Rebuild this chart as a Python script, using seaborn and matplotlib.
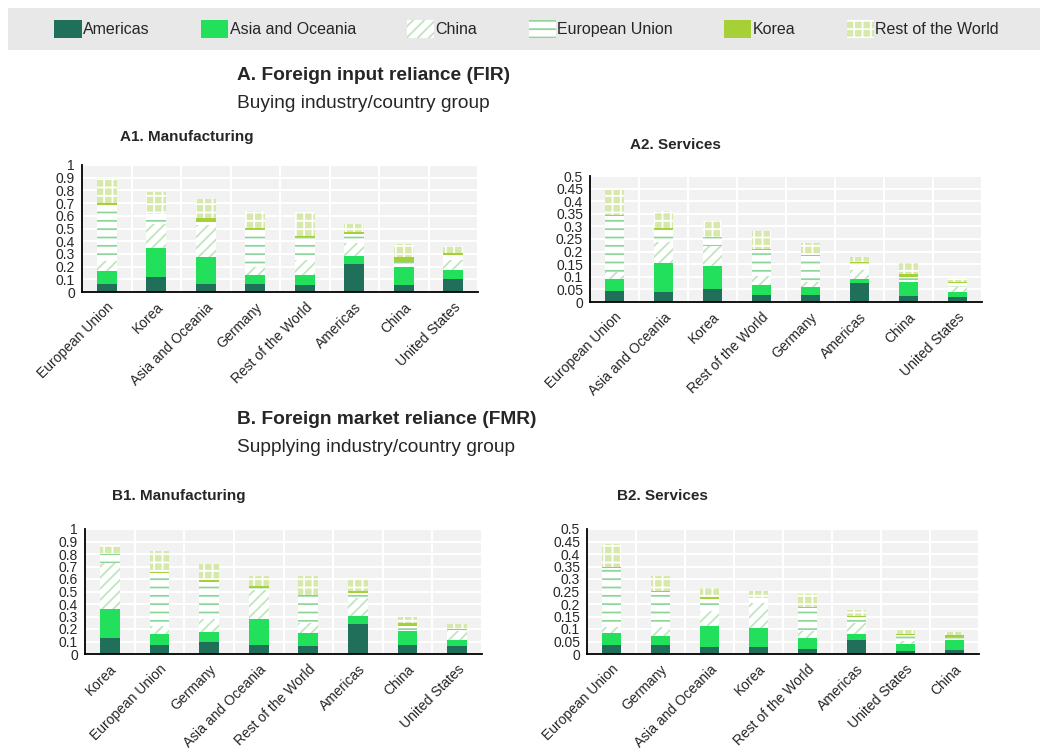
import numpy as np
import seaborn as sns
import matplotlib.pyplot as plt
from matplotlib.patches import Patch, Rectangle
from matplotlib.ticker import MultipleLocator, FormatStrFormatter

# ---- data (shares, one list per partner segment) ----
partners = ["Americas", "Asia and Oceania", "China", "European Union", "Korea", "Rest of the World"]

a1_cats = ["European Union", "Korea", "Asia and Oceania", "Germany", "Rest of the World", "Americas", "China", "United States"]
a1_americas = [0.065, 0.115, 0.060, 0.060, 0.052, 0.222, 0.052, 0.100]
a1_asia = [0.097, 0.235, 0.215, 0.076, 0.084, 0.058, 0.144, 0.070]
a1_china = [0.085, 0.187, 0.255, 0.064, 0.114, 0.105, 0.000, 0.084]
a1_eu = [0.440, 0.076, 0.025, 0.297, 0.182, 0.073, 0.042, 0.039]
a1_korea = [0.013, 0.000, 0.025, 0.006, 0.010, 0.011, 0.034, 0.013]
a1_row = [0.200, 0.172, 0.150, 0.137, 0.191, 0.068, 0.108, 0.053]

a2_cats = ["European Union", "Asia and Oceania", "Korea", "Rest of the World", "Germany", "Americas", "China", "United States"]
a2_americas = [0.042, 0.038, 0.053, 0.028, 0.026, 0.074, 0.022, 0.018]
a2_asia = [0.049, 0.116, 0.090, 0.039, 0.032, 0.019, 0.056, 0.020]
a2_china = [0.030, 0.085, 0.079, 0.037, 0.021, 0.035, 0.000, 0.021]
a2_eu = [0.221, 0.050, 0.035, 0.103, 0.104, 0.026, 0.023, 0.016]
a2_korea = [0.005, 0.004, 0.000, 0.004, 0.003, 0.003, 0.011, 0.004]
a2_row = [0.098, 0.069, 0.064, 0.071, 0.050, 0.023, 0.042, 0.018]

b1_cats = ["Korea", "European Union", "Germany", "Asia and Oceania", "Rest of the World", "Americas", "China", "United States"]
b1_americas = [0.125, 0.074, 0.093, 0.069, 0.061, 0.239, 0.069, 0.066]
b1_asia = [0.239, 0.083, 0.080, 0.208, 0.104, 0.064, 0.112, 0.048]
b1_china = [0.367, 0.069, 0.106, 0.236, 0.082, 0.144, 0.000, 0.072]
b1_eu = [0.069, 0.426, 0.301, 0.014, 0.216, 0.045, 0.045, 0.008]
b1_korea = [0.000, 0.008, 0.010, 0.021, 0.010, 0.013, 0.019, 0.008]
b1_row = [0.075, 0.162, 0.130, 0.080, 0.149, 0.085, 0.050, 0.037]

b2_cats = ["European Union", "Germany", "Asia and Oceania", "Korea", "Rest of the World", "Americas", "United States", "China"]
b2_americas = [0.035, 0.035, 0.027, 0.029, 0.021, 0.057, 0.013, 0.016]
b2_asia = [0.049, 0.039, 0.086, 0.076, 0.044, 0.024, 0.026, 0.039]
b2_china = [0.026, 0.036, 0.060, 0.098, 0.028, 0.043, 0.012, 0.000]
b2_eu = [0.233, 0.139, 0.048, 0.023, 0.091, 0.026, 0.026, 0.015]
b2_korea = [0.007, 0.005, 0.009, 0.000, 0.005, 0.004, 0.004, 0.008]
b2_row = [0.090, 0.058, 0.033, 0.027, 0.053, 0.023, 0.016, 0.012]

# ---- styles per partner: facecolor, hatch, hatch colour ----
styles = {
    "Americas": dict(color="#1f6f5a", hatch=None, edgecolor="#1f6f5a"),
    "Asia and Oceania": dict(color="#22e05c", hatch=None, edgecolor="#22e05c"),
    "China": dict(color="white", hatch="///", edgecolor="#bfe6bd"),
    "European Union": dict(color="white", hatch="--", edgecolor="#8fd69c"),
    "Korea": dict(color="#a6cf38", hatch=None, edgecolor="#a6cf38"),
    "Rest of the World": dict(color="#d6e8aa", hatch="++", edgecolor="white"),
}

sns.set_style("whitegrid", {"axes.facecolor": "#f2f2f2", "grid.color": "white",
                            "axes.edgecolor": "black"})
plt.rcParams["font.family"] = ["Liberation Sans", "DejaVu Sans"]
plt.rcParams["hatch.linewidth"] = 1.3

fig = plt.figure(figsize=(10.41, 7.52), dpi=100)
W, H = 1041, 752


def px_axes(left, top, right, bottom):
    return fig.add_axes([left / W, 1 - bottom / H, (right - left) / W, (bottom - top) / H])


def draw_panel(ax, cats, segs, ymax, step):
    tops = np.cumsum(np.array(segs), axis=0)
    # draw from the top cumulative down so lower segments sit over higher ones
    for i in range(len(partners) - 1, -1, -1):
        st = styles[partners[i]]
        sns.barplot(x=cats, y=list(tops[i]), order=cats, ax=ax, width=0.4,
                    saturation=1, errorbar=None, color=st["color"],
                    hatch=st["hatch"], edgecolor=st["edgecolor"], linewidth=0)
    ax.set_xlim(-0.5, len(cats) - 0.5)
    ax.set_ylim(0, ymax)
    ax.set_xlabel("")
    ax.set_ylabel("")
    ax.yaxis.set_major_locator(MultipleLocator(step))
    ax.yaxis.set_major_formatter(FormatStrFormatter("%g"))
    ax.set_xticks(np.arange(len(cats)))
    ax.set_xticks(np.arange(len(cats) + 1) - 0.5, minor=True)
    ax.set_xticklabels(cats, rotation=45, ha="right", rotation_mode="anchor", fontsize=10)
    ax.tick_params(axis="x", which="major", length=0, pad=6)
    ax.tick_params(axis="x", which="minor", direction="in", length=5, width=1.2, color="black")
    ax.tick_params(axis="y", direction="out", length=4, width=1.2, labelsize=10, pad=1)
    ax.grid(False)
    ax.grid(True, axis="y", which="major", color="white", lw=1.5)
    ax.grid(True, axis="x", which="minor", color="white", lw=1.5)
    ax.set_axisbelow(True)
    for s in ["top", "right"]:
        ax.spines[s].set_visible(False)
    for s in ["left", "bottom"]:
        ax.spines[s].set_color("black")
        ax.spines[s].set_linewidth(1.3)


ax_a1 = px_axes(82, 165, 478, 292)
draw_panel(ax_a1, a1_cats, [a1_americas, a1_asia, a1_china, a1_eu, a1_korea, a1_row], 1, 0.1)
ax_a2 = px_axes(590, 176, 982, 302)
draw_panel(ax_a2, a2_cats, [a2_americas, a2_asia, a2_china, a2_eu, a2_korea, a2_row], 0.5, 0.05)
ax_b1 = px_axes(85, 529, 482, 654)
draw_panel(ax_b1, b1_cats, [b1_americas, b1_asia, b1_china, b1_eu, b1_korea, b1_row], 1, 0.1)
ax_b2 = px_axes(587, 529, 979, 654)
draw_panel(ax_b2, b2_cats, [b2_americas, b2_asia, b2_china, b2_eu, b2_korea, b2_row], 0.5, 0.05)

# ---- titles ----
fig.text(237 / W, 1 - 75 / H, "A. Foreign input reliance (FIR)", fontsize=13.8, fontweight="bold", va="center")
fig.text(237 / W, 1 - 103 / H, "Buying industry/country group", fontsize=13.8, va="center")
fig.text(120 / W, 1 - 137 / H, "A1. Manufacturing", fontsize=11, fontweight="bold", va="center")
fig.text(630 / W, 1 - 145 / H, "A2. Services", fontsize=11, fontweight="bold", va="center")
fig.text(237 / W, 1 - 420 / H, "B. Foreign market reliance (FMR)", fontsize=13.8, fontweight="bold", va="center")
fig.text(237 / W, 1 - 448 / H, "Supplying industry/country group", fontsize=13.8, va="center")
fig.text(112 / W, 1 - 496 / H, "B1. Manufacturing", fontsize=11, fontweight="bold", va="center")
fig.text(617 / W, 1 - 496 / H, "B2. Services", fontsize=11, fontweight="bold", va="center")

# ---- legend band ----
fig.patches.append(Rectangle((8 / W, 1 - 50 / H), 1032 / W, 42 / H, transform=fig.transFigure,
                             facecolor="#e8e8e8", edgecolor="none", zorder=0))
handles = [Patch(facecolor=styles[p]["color"], hatch=styles[p]["hatch"],
                 edgecolor=styles[p]["edgecolor"], linewidth=0) for p in partners]
fig.legend(handles, partners, loc="center left", bbox_to_anchor=(48 / W, 1 - 29 / H),
           ncol=6, frameon=False, fontsize=11.5, handlelength=1.7, handleheight=1.3,
           handletextpad=0.1, columnspacing=3.2, borderaxespad=0)

fig.savefig("out.png", dpi=100)
